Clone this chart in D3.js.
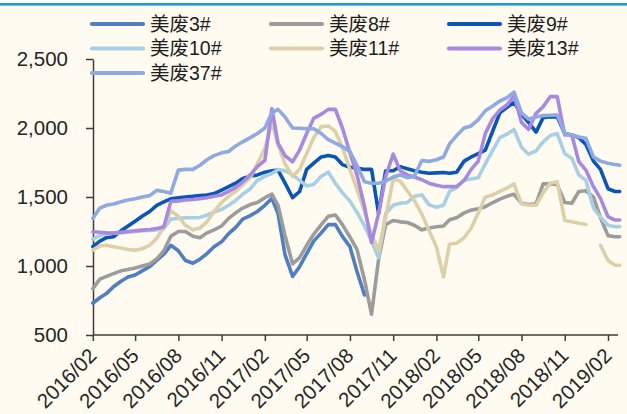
<!DOCTYPE html>
<html>
<head>
<meta charset="utf-8">
<script src="https://cdn.jsdelivr.net/npm/d3@7"></script>
<style>
  html, body { margin: 0; padding: 0; background: #fffbf0; }
  svg { display: block; }
</style>
</head>
<body>
<svg id="chart" width="627" height="414"></svg>
<script>
// Half-monthly observation dates
const dates = [
  "2016-02-01","2016-02-16","2016-03-01","2016-03-16","2016-04-01","2016-04-16","2016-05-01","2016-05-16",
  "2016-06-01","2016-06-16","2016-07-01","2016-07-16","2016-08-01","2016-08-16","2016-09-01","2016-09-16",
  "2016-10-01","2016-10-16","2016-11-01","2016-11-16","2016-12-01","2016-12-16",
  "2017-01-01","2017-01-16","2017-02-01","2017-02-16","2017-03-01","2017-03-16","2017-04-01","2017-04-16",
  "2017-05-01","2017-05-16","2017-06-01","2017-06-16","2017-07-01","2017-07-16","2017-08-01","2017-08-16",
  "2017-09-01","2017-09-16","2017-10-01","2017-10-16","2017-11-01","2017-11-16","2017-12-01","2017-12-16",
  "2018-01-01","2018-01-16","2018-02-01","2018-02-16","2018-03-01","2018-03-16","2018-04-01","2018-04-16",
  "2018-05-01","2018-05-16","2018-06-01","2018-06-16","2018-07-01","2018-07-16","2018-08-01","2018-08-16",
  "2018-09-01","2018-09-16","2018-10-01","2018-10-16","2018-11-01","2018-11-16","2018-12-01","2018-12-16",
  "2019-01-01","2019-01-16","2019-02-01","2019-02-16","2019-02-26"
];

// Prices per grade (null = no quote)
const mf3 = [730,770,800,850,890,920,935,965,995,1040,1085,1150,1110,1040,1020,1050,1090,1140,1175,1235,
  1280,1340,1365,1395,1440,1490,1380,1080,925,995,1090,1180,1240,1300,1300,1215,1140,960,790,
  null,null,null,null,null,null,null,null,null,null,null,null,null,null,null,null,null,null,null,null,null,
  null,null,null,null,null,null,null,null,null,null,null,null,null,null,null,null];
const mf8 = [835,905,925,945,965,975,985,1000,1015,1050,1110,1215,1250,1250,1215,1205,1240,1262,1290,1345,
  1385,1420,1445,1460,1495,1520,1440,1220,1015,1060,1150,1230,1300,1360,1370,1300,1210,1120,900,650,
  1050,1300,1330,1320,1315,1295,1262,1275,1285,1290,1335,1350,1385,1405,1415,1430,1460,1485,1505,1520,
  1455,1445,1450,1595,1595,1590,1460,1455,1540,1545,1500,1350,1220,1212,1212];
const mf9 = [1140,1180,1205,1212,1255,1290,1325,1360,1395,1440,1465,1487,1495,1500,1505,1510,1515,1525,1550,1575,
  1600,1635,1650,1660,1680,1690,1695,1600,1495,1540,1700,1745,1790,1800,1790,1735,1715,1710,1700,1700,
  1380,1690,1690,1720,1705,1690,1680,1672,1675,1677,1672,1680,1760,1790,1815,1840,1980,2110,2150,2185,
  2100,2040,1970,2075,2082,2080,1960,1950,1930,1880,1760,1700,1560,1540,1540];
const mf10 = [1195,1220,1235,1238,1240,1245,1250,1255,1258,1262,1272,1340,1345,1350,1350,1352,1370,1390,1410,1440,
  1475,1520,1560,1620,1650,1670,1700,1690,1660,1620,1580,1590,1650,1680,1600,1530,1470,1390,1290,1180,
  1060,1380,1440,1454,1460,1505,1515,1445,1425,1440,1540,1570,1623,1630,1640,1740,1840,1930,1955,1990,
  1860,1810,1835,1900,1945,1960,1815,1780,1660,1620,1420,1355,1295,1285,1285];
const mf11 = [1115,1145,1150,1140,1130,1120,1115,1125,1150,1200,1280,1400,1360,1295,1262,1275,1320,1395,1460,1505,
  1540,1590,1640,1740,1850,2040,1880,1740,1650,1700,1815,1930,2010,2015,1975,1860,1700,1555,1395,1230,
  1110,1350,1630,1615,1545,1475,1375,1260,1140,920,1160,1165,1205,1275,1385,1500,1515,1540,1565,1595,
  1450,1440,1440,1530,1600,1610,1330,1320,1310,1300,null,1150,1040,1005,1005];
const mf13 = [1248,1245,1240,1238,1245,1250,1255,1260,1265,1272,1282,1468,1472,1478,1482,1488,1495,1505,1515,1540,
  1570,1610,1660,1720,1765,2140,1890,1800,1755,1840,1960,2070,2100,2135,2135,2000,1820,1660,1430,1170,
  1380,1650,1810,1690,1660,1645,1625,1600,1585,1575,1575,1575,1620,1700,1760,1961,2070,2130,2166,2235,
  2040,1990,2106,2154,2227,2227,1949,1949,1756,1695,1575,1490,1357,1333,1333];
const mf37 = [1345,1420,1440,1450,1465,1478,1488,1500,1510,1548,1540,1528,1695,1700,1700,1730,1770,1800,1820,1830,
  1870,1900,1930,1960,2000,2110,2135,2080,2000,1998,1995,1995,1960,1915,1890,1865,1830,1730,1610,1600,
  1600,1615,1645,1660,1640,1650,1765,1758,1770,1790,1885,1945,2000,2015,2060,2125,2160,2195,2220,2260,
  2110,2065,2080,2090,2092,2094,1960,1950,1935,1925,1790,1760,1745,1735,1730];

const seriesNames  = ["美废3#", "美废8#", "美废9#", "美废10#", "美废11#", "美废13#", "美废37#"];
const seriesValues = [mf3, mf8, mf9, mf10, mf11, mf13, mf37];
const seriesColors = ["#4f7fc1", "#9c9c9c", "#0a55b5", "#a7cfe5", "#ddd0a8", "#a78ae0", "#8eaae0"];

const yTicks = [500, 1000, 1500, 2000, 2500];
const xTickLabels = ["2016/02","2016/05","2016/08","2016/11","2017/02","2017/05","2017/08",
                     "2017/11","2018/02","2018/05","2018/08","2018/11","2019/02"];

const W = 627, H = 414;
const svg = d3.select("#chart");
const parseDay = d3.timeParse("%Y-%m-%d");
const parseMonth = d3.timeParse("%Y/%m");
const dayDates = dates.map(parseDay);
const tickDates = xTickLabels.map(parseMonth);

const plotLeft = 93, plotBottom = 335, plotTop = 59, axisRight = 618;

const x = d3.scaleTime()
  .domain([tickDates[0], tickDates[tickDates.length - 1]])
  .range([92.8, 608]);
const y = d3.scaleLinear().domain([500, 2500]).range([plotBottom, plotTop]);

// page background and header rule
svg.append("rect").attr("width", W).attr("height", H).attr("fill", "#fffbf0");
svg.append("rect").attr("x", 0).attr("y", 0).attr("width", W).attr("height", 3).attr("fill", "#ffffff");
svg.append("rect").attr("x", 0).attr("y", 3).attr("width", W).attr("height", 2.6).attr("fill", "#1a9ad8");

const font = "'Liberation Sans', Arial, 'Noto Sans CJK SC', sans-serif";
const axisColor = "#3c3c3c";

// y axis
const yAxis = svg.append("g")
  .attr("transform", `translate(${plotLeft},0)`)
  .call(d3.axisLeft(y).tickValues(yTicks).tickFormat(d3.format(",")).tickSize(7).tickSizeOuter(0).tickPadding(18));
yAxis.select(".domain").attr("stroke", axisColor).attr("stroke-width", 1.5);
yAxis.selectAll(".tick line").attr("stroke", axisColor).attr("stroke-width", 1.5);
yAxis.selectAll(".tick text").attr("fill", "#262626").style("font-family", font).style("font-size", "20.5px");

// x axis
const xAxis = svg.append("g")
  .attr("transform", `translate(0,${plotBottom})`)
  .call(d3.axisBottom(x).tickValues(tickDates).tickSize(6).tickSizeOuter(0).tickFormat(""));
xAxis.select(".domain").remove();
xAxis.append("line").attr("x1", plotLeft).attr("x2", axisRight).attr("y1", 0).attr("y2", 0)
  .attr("stroke", axisColor).attr("stroke-width", 1.5);
xAxis.selectAll(".tick line").attr("stroke", axisColor).attr("stroke-width", 1.5);

svg.append("g").selectAll("text")
  .data(tickDates)
  .join("text")
  .attr("text-anchor", "end")
  .attr("transform", (d) => `translate(${x(d) + 5},${plotBottom + 22}) rotate(-45)`)
  .attr("fill", "#262626")
  .style("font-family", font)
  .style("font-size", "20.5px")
  .text((d, i) => xTickLabels[i]);

// series lines
const line = d3.line()
  .defined((d) => d.v != null)
  .x((d) => x(d.t))
  .y((d) => y(d.v));

seriesValues.forEach((vals, k) => {
  const pts = vals.map((v, i) => ({ t: dayDates[i], v }));
  svg.append("path")
    .datum(pts)
    .attr("d", line)
    .attr("fill", "none")
    .attr("stroke", seriesColors[k])
    .attr("stroke-width", 3.6)
    .attr("stroke-linejoin", "round")
    .attr("stroke-linecap", "round");
});

// legend
const legendCols = [90, 269, 447];
const legendRows = [23.5, 48, 72.5];
const legend = svg.append("g");
seriesNames.forEach((name, k) => {
  const cx = legendCols[k % 3], cy = legendRows[Math.floor(k / 3)];
  legend.append("line")
    .attr("x1", cx + 2).attr("x2", cx + 53).attr("y1", cy + 0.5).attr("y2", cy + 0.5)
    .attr("stroke", seriesColors[k]).attr("stroke-width", 4.2).attr("stroke-linecap", "round");
  legend.append("text")
    .attr("x", cx + 60).attr("y", cy)
    .attr("dominant-baseline", "central")
    .attr("fill", "#1e1e1e")
    .style("font-family", font)
    .style("font-size", "19.5px")
    .text(name);
});
</script>
</body>
</html>
